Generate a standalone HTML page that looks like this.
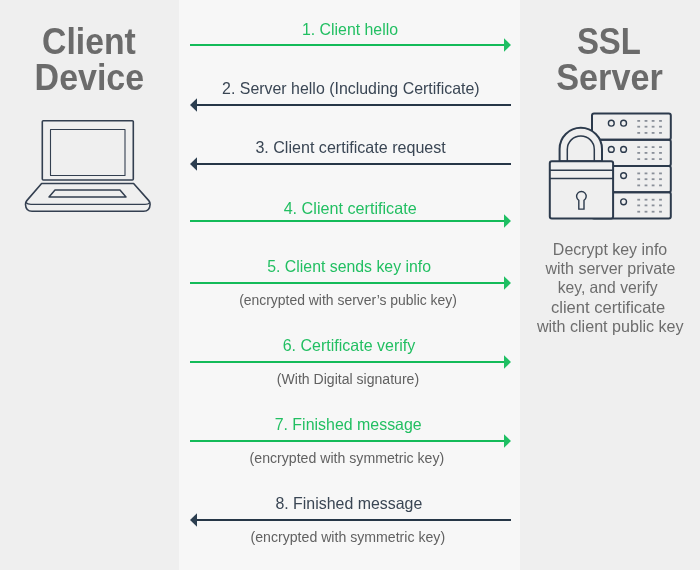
<!DOCTYPE html>
<html><head><meta charset="utf-8">
<style>
html,body{margin:0;padding:0;}
body{width:700px;height:570px;overflow:hidden;background:#efefef;font-family:"Liberation Sans",sans-serif;}
svg{display:block;will-change:transform;}
</style></head>
<body>
<svg width="700" height="570" viewBox="0 0 700 570" font-family="Liberation Sans, sans-serif">
  <rect x="0" y="0" width="700" height="570" fill="#efefef"/>
  <rect x="179" y="0" width="341" height="570" fill="#f7f7f7"/>

  <text x="42.03" y="53.90" font-size="37" font-weight="700" fill="#6b6b6b" textLength="93.74" lengthAdjust="spacingAndGlyphs">Client</text>
  <text x="34.61" y="89.80" font-size="37" font-weight="700" fill="#6b6b6b" textLength="109.50" lengthAdjust="spacingAndGlyphs">Device</text>
  <text x="576.90" y="53.90" font-size="37" font-weight="700" fill="#6b6b6b" textLength="64.07" lengthAdjust="spacingAndGlyphs">SSL</text>
  <text x="556.16" y="89.70" font-size="37" font-weight="700" fill="#6b6b6b" textLength="106.68" lengthAdjust="spacingAndGlyphs">Server</text>
  <text x="301.90" y="35.00" font-size="16.5" font-weight="400" fill="#22bf62" textLength="96.20" lengthAdjust="spacingAndGlyphs">1. Client hello</text>
  <text x="222.06" y="93.80" font-size="16.5" font-weight="400" fill="#3a4654" textLength="257.60" lengthAdjust="spacingAndGlyphs">2. Server hello (Including Certificate)</text>
  <text x="255.39" y="152.70" font-size="16.5" font-weight="400" fill="#3a4654" textLength="190.40" lengthAdjust="spacingAndGlyphs">3. Client certificate request</text>
  <text x="283.63" y="213.80" font-size="16.5" font-weight="400" fill="#22bf62" textLength="133.08" lengthAdjust="spacingAndGlyphs">4. Client certificate</text>
  <text x="267.28" y="272.00" font-size="16.5" font-weight="400" fill="#22bf62" textLength="163.71" lengthAdjust="spacingAndGlyphs">5. Client sends key info</text>
  <text x="239.13" y="305.20" font-size="14" font-weight="400" fill="#616161" textLength="217.77" lengthAdjust="spacingAndGlyphs">(encrypted with server’s public key)</text>
  <text x="282.65" y="350.70" font-size="16.5" font-weight="400" fill="#22bf62" textLength="132.65" lengthAdjust="spacingAndGlyphs">6. Certificate verify</text>
  <text x="276.82" y="384.10" font-size="14" font-weight="400" fill="#616161" textLength="142.33" lengthAdjust="spacingAndGlyphs">(With Digital signature)</text>
  <text x="274.65" y="429.50" font-size="16.5" font-weight="400" fill="#22bf62" textLength="147.07" lengthAdjust="spacingAndGlyphs">7. Finished message</text>
  <text x="249.62" y="462.90" font-size="14" font-weight="400" fill="#616161" textLength="194.60" lengthAdjust="spacingAndGlyphs">(encrypted with symmetric key)</text>
  <text x="275.38" y="508.50" font-size="16.5" font-weight="400" fill="#3a4654" textLength="146.95" lengthAdjust="spacingAndGlyphs">8. Finished message</text>
  <text x="250.52" y="541.90" font-size="14" font-weight="400" fill="#616161" textLength="194.60" lengthAdjust="spacingAndGlyphs">(encrypted with symmetric key)</text>
  <text x="552.87" y="254.90" font-size="16.5" font-weight="400" fill="#6d6d6d" textLength="114.38" lengthAdjust="spacingAndGlyphs">Decrypt key info</text>
  <text x="545.50" y="273.70" font-size="16.5" font-weight="400" fill="#6d6d6d" textLength="129.93" lengthAdjust="spacingAndGlyphs">with server private</text>
  <text x="557.63" y="292.80" font-size="16.5" font-weight="400" fill="#6d6d6d" textLength="100.00" lengthAdjust="spacingAndGlyphs">key, and verify</text>
  <text x="550.95" y="312.90" font-size="16.5" font-weight="400" fill="#6d6d6d" textLength="114.27" lengthAdjust="spacingAndGlyphs">client certificate</text>
  <text x="536.90" y="331.60" font-size="16.5" font-weight="400" fill="#6d6d6d" textLength="146.73" lengthAdjust="spacingAndGlyphs">with client public key</text>
  <!-- arrows -->
  <g stroke-width="2">
    <line x1="190" y1="45" x2="505" y2="45" stroke="#14bb59"/>
    <line x1="196" y1="105" x2="511" y2="105" stroke="#263647"/>
    <line x1="196" y1="164" x2="511" y2="164" stroke="#263647"/>
    <line x1="190" y1="221" x2="505" y2="221" stroke="#14bb59"/>
    <line x1="190" y1="283" x2="505" y2="283" stroke="#14bb59"/>
    <line x1="190" y1="362" x2="505" y2="362" stroke="#14bb59"/>
    <line x1="190" y1="441" x2="505" y2="441" stroke="#14bb59"/>
    <line x1="196" y1="520" x2="511" y2="520" stroke="#263647"/>
  </g>
  <g fill="#1fbf63">
    <path d="M504 38.3 L511 45 L504 51.7Z"/>
    <path d="M504 214.3 L511 221 L504 227.7Z"/>
    <path d="M504 276.3 L511 283 L504 289.7Z"/>
    <path d="M504 355.3 L511 362 L504 368.7Z"/>
    <path d="M504 434.3 L511 441 L504 447.7Z"/>
  </g>
  <g fill="#2c3e50">
    <path d="M197 98.3 L190 105 L197 111.7Z"/>
    <path d="M197 157.3 L190 164 L197 170.7Z"/>
    <path d="M197 513.3 L190 520 L197 526.7Z"/>
  </g>

  <!-- laptop -->
  <g fill="none" stroke="#333f50" stroke-linejoin="round">
    <rect x="42.3" y="120.7" width="91" height="59.3" rx="1" stroke-width="1.6"/>
    <rect x="50.5" y="129.5" width="74.5" height="46" stroke-width="1.1"/>
    <path d="M41.6 183.5 H133.6 L148.8 200.6 Q150.2 202.2 150.1 204.5 C149.9 208.6 147.6 211.3 143.6 211.3 H32 C28 211.3 25.7 208.6 25.5 204.5 Q25.4 202.2 26.8 200.6 Z" stroke-width="1.6"/>
    <path d="M25.8 202.6 Q27.5 204.4 31 204.4 H145 Q148.3 204.4 149.8 202.6" stroke-width="1.4"/>
    <path d="M55 190 H120 L126 197 H49 Z" stroke-width="1.5"/>
  </g>

  <!-- server + lock -->
  <g fill="none" stroke="#2c3a4c" stroke-width="2">
    <rect x="592" y="113.6" width="78.8" height="26.1" rx="2"/>
    <rect x="592" y="139.7" width="78.8" height="26.3" rx="2"/>
    <rect x="592" y="166.0" width="78.8" height="26.3" rx="2"/>
    <rect x="592" y="192.3" width="78.8" height="26.2" rx="2"/>
  </g>
  <g fill="none" stroke="#2c3a4c" stroke-width="1.4">
    <circle cx="611.3" cy="123.2" r="2.9"/>
    <circle cx="623.6" cy="123.2" r="2.9"/>
    <circle cx="611.3" cy="149.4" r="2.9"/>
    <circle cx="623.6" cy="149.4" r="2.9"/>
    <circle cx="623.6" cy="175.6" r="2.9"/>
    <circle cx="623.6" cy="201.8" r="2.9"/>
  </g>
  <g fill="#8a9099">
    <rect x="637.3" y="120.0" width="2.8" height="1.8"/><rect x="644.6" y="120.0" width="2.8" height="1.8"/><rect x="651.7" y="120.0" width="2.8" height="1.8"/><rect x="659.1" y="120.0" width="2.8" height="1.8"/><rect x="637.3" y="125.8" width="2.8" height="1.8"/><rect x="644.6" y="125.8" width="2.8" height="1.8"/><rect x="651.7" y="125.8" width="2.8" height="1.8"/><rect x="659.1" y="125.8" width="2.8" height="1.8"/><rect x="637.3" y="132.0" width="2.8" height="1.8"/><rect x="644.6" y="132.0" width="2.8" height="1.8"/><rect x="651.7" y="132.0" width="2.8" height="1.8"/><rect x="659.1" y="132.0" width="2.8" height="1.8"/><rect x="637.3" y="146.2" width="2.8" height="1.8"/><rect x="644.6" y="146.2" width="2.8" height="1.8"/><rect x="651.7" y="146.2" width="2.8" height="1.8"/><rect x="659.1" y="146.2" width="2.8" height="1.8"/><rect x="637.3" y="152.0" width="2.8" height="1.8"/><rect x="644.6" y="152.0" width="2.8" height="1.8"/><rect x="651.7" y="152.0" width="2.8" height="1.8"/><rect x="659.1" y="152.0" width="2.8" height="1.8"/><rect x="637.3" y="158.2" width="2.8" height="1.8"/><rect x="644.6" y="158.2" width="2.8" height="1.8"/><rect x="651.7" y="158.2" width="2.8" height="1.8"/><rect x="659.1" y="158.2" width="2.8" height="1.8"/><rect x="637.3" y="172.5" width="2.8" height="1.8"/><rect x="644.6" y="172.5" width="2.8" height="1.8"/><rect x="651.7" y="172.5" width="2.8" height="1.8"/><rect x="659.1" y="172.5" width="2.8" height="1.8"/><rect x="637.3" y="178.3" width="2.8" height="1.8"/><rect x="644.6" y="178.3" width="2.8" height="1.8"/><rect x="651.7" y="178.3" width="2.8" height="1.8"/><rect x="659.1" y="178.3" width="2.8" height="1.8"/><rect x="637.3" y="184.5" width="2.8" height="1.8"/><rect x="644.6" y="184.5" width="2.8" height="1.8"/><rect x="651.7" y="184.5" width="2.8" height="1.8"/><rect x="659.1" y="184.5" width="2.8" height="1.8"/><rect x="637.3" y="198.8" width="2.8" height="1.8"/><rect x="644.6" y="198.8" width="2.8" height="1.8"/><rect x="651.7" y="198.8" width="2.8" height="1.8"/><rect x="659.1" y="198.8" width="2.8" height="1.8"/><rect x="637.3" y="204.5" width="2.8" height="1.8"/><rect x="644.6" y="204.5" width="2.8" height="1.8"/><rect x="651.7" y="204.5" width="2.8" height="1.8"/><rect x="659.1" y="204.5" width="2.8" height="1.8"/><rect x="637.3" y="210.8" width="2.8" height="1.8"/><rect x="644.6" y="210.8" width="2.8" height="1.8"/><rect x="651.7" y="210.8" width="2.8" height="1.8"/><rect x="659.1" y="210.8" width="2.8" height="1.8"/>
  </g>
  <!-- lock -->
  <g stroke="#2c3a4c" stroke-width="2" fill="#efefef">
    <path d="M559.6 161.3 V149.0 A21.2 21.2 0 0 1 602.0 149.0 V161.3 Z"/>
    <path d="M567.3 161.3 V149.4 A13.5 13.5 0 0 1 594.3 149.4 V161.3" fill="none" stroke-width="1.5"/>
    <rect x="549.8" y="161.3" width="63.3" height="57.2" rx="2"/>
    <line x1="549.8" y1="170.3" x2="613.1" y2="170.3" stroke-width="1.5"/>
    <line x1="549.8" y1="178.4" x2="613.1" y2="178.4" stroke-width="1.5"/>
    <path d="M578.8 200.3 V209.1 H584.0 V200.3 A4.8 4.8 0 1 0 578.8 200.3 Z" fill="none" stroke-width="1.4"/>
  </g>
</svg>
</body></html>
